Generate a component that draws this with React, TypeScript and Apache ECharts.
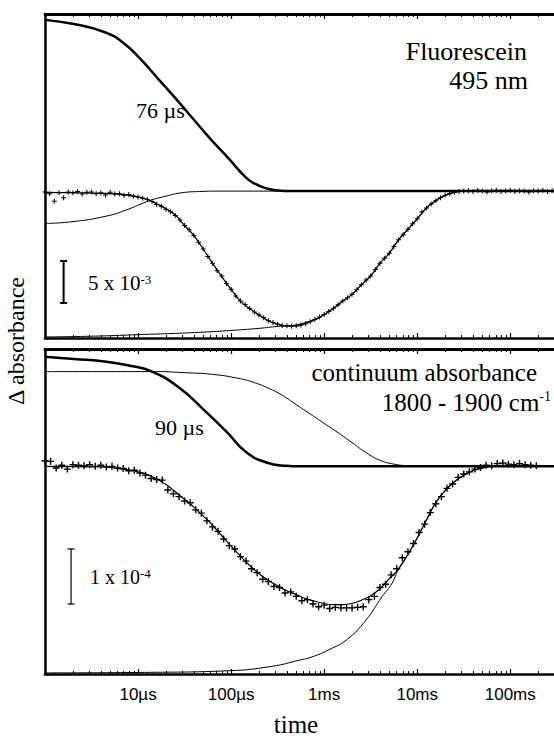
import React, { useEffect, useRef } from "react";
import * as echarts from "echarts";

// x axis: log10(time / s)
const X_MIN = -6.0;
const X_MAX = -0.53;

const decadeTicks = [-5, -4, -3, -2, -1];
const decadeLabels = ["10µs", "100µs", "1ms", "10ms", "100ms"];
const minorMultipliers = [2, 3, 4, 5, 6, 7, 8, 9];
const minorDecades = [-6, -5, -4, -3, -2, -1];

// ---------- top panel (Fluorescein 495 nm), values in units of 1e-3 ----------
const topDecay76 = [
  [-6.0, 20.4], [-5.69, 19.9], [-5.35, 18.9], [-5.15, 17.6], [-4.98, 15.8], [-4.77, 13.2],
  [-4.59, 10.95], [-4.4, 8.5], [-4.22, 6.2], [-4.02, 3.8], [-3.84, 1.6], [-3.74, 0.85],
  [-3.63, 0.35], [-3.52, 0.1], [-3.4, 0.01], [-3.3, 0], [-0.53, 0],
];
const topFastRise = [
  [-6.0, -3.85], [-5.71, -3.65], [-5.34, -2.98], [-5.13, -2.26], [-4.88, -1.15], [-4.7, -0.6],
  [-4.53, -0.2], [-4.34, -0.05], [-4.1, 0], [-0.53, 0],
];
const topSlowRise = [
  [-6.0, -17.38], [-5.4, -17.26], [-5.0, -17.1], [-4.6, -16.95], [-4.3, -16.8], [-4.0, -16.6],
  [-3.7, -16.35], [-3.5, -16.12], [-3.4, -16.06], [-3.3, -15.95], [-3.2, -15.65], [-3.1, -15.3],
  [-3.0, -14.7], [-2.9, -13.95], [-2.8, -13.1], [-2.7, -12.3], [-2.6, -11.15], [-2.5, -10.1],
  [-2.4, -8.6], [-2.3, -7.4], [-2.2, -5.8], [-2.1, -4.55], [-2.0, -3.3], [-1.9, -2.0],
  [-1.8, -1.15], [-1.7, -0.5], [-1.6, -0.15], [-1.5, 0], [-0.53, 0],
];
const topFit = [
  [-6.0, -0.15], [-5.6, -0.22], [-5.3, -0.3], [-5.1, -0.5], [-5.0, -0.7], [-4.9, -1.0],
  [-4.8, -1.5], [-4.7, -2.1], [-4.6, -2.85], [-4.5, -4.1], [-4.4, -5.3], [-4.3, -6.9],
  [-4.2, -8.6], [-4.1, -10.2], [-4.0, -11.7], [-3.9, -13.1], [-3.8, -14.0], [-3.7, -14.75],
  [-3.6, -15.45], [-3.5, -15.85], [-3.4, -16.05], [-3.3, -16.05], [-3.2, -15.75], [-3.1, -15.3],
  [-3.0, -14.7], [-2.9, -13.95], [-2.8, -13.1], [-2.7, -12.3], [-2.6, -11.15], [-2.5, -10.1],
  [-2.4, -8.6], [-2.3, -7.4], [-2.2, -5.8], [-2.1, -4.55], [-2.0, -3.3], [-1.9, -2.0],
  [-1.8, -1.15], [-1.7, -0.5], [-1.6, -0.15], [-1.5, 0], [-0.53, 0],
];
const topData = [
  [-6.0, -0.1], [-5.95, -0.3], [-5.9, -1.2], [-5.85, -0.2], [-5.8, -0.8], [-5.75, -0.1], [-5.7, -0.2], [-5.65, -0.05], [-5.6, -0.35], [-5.55, -0.15],
  [-5.5, -0.1], [-5.45, -0.3], [-5.4, -0.2], [-5.35, -0.45], [-5.3, -0.15], [-5.25, -0.35], [-5.2, -0.3], [-5.15, -0.5], [-5.1, -0.4], [-5.05, -0.6],
  [-5.0, -0.7], [-4.95, -0.85], [-4.9, -1.0], [-4.85, -1.25], [-4.8, -1.6], [-4.75, -1.8], [-4.7, -2.15], [-4.65, -2.45], [-4.6, -2.9], [-4.55, -3.45],
  [-4.5, -4.1], [-4.45, -4.6], [-4.4, -5.3], [-4.35, -6.1], [-4.3, -6.9], [-4.25, -7.8], [-4.2, -8.6], [-4.15, -9.5], [-4.1, -10.1], [-4.05, -11.0],
  [-4.0, -11.7], [-3.95, -12.5], [-3.9, -13.1], [-3.85, -13.5], [-3.8, -14.0], [-3.75, -14.4], [-3.7, -14.75], [-3.65, -15.1], [-3.6, -15.45], [-3.55, -15.65],
  [-3.5, -15.85], [-3.45, -16.0], [-3.4, -16.05], [-3.35, -16.1], [-3.3, -16.05], [-3.25, -15.95], [-3.2, -15.8], [-3.15, -15.55], [-3.1, -15.3], [-3.05, -15.0],
  [-3.0, -14.7], [-2.95, -14.35], [-2.9, -13.95], [-2.85, -13.55], [-2.8, -13.1], [-2.75, -12.7], [-2.7, -12.3], [-2.65, -11.75], [-2.6, -11.15], [-2.55, -10.6],
  [-2.5, -10.1], [-2.45, -9.35], [-2.4, -8.6], [-2.35, -8.0], [-2.3, -7.4], [-2.25, -6.6], [-2.2, -5.8], [-2.15, -5.2], [-2.1, -4.55], [-2.05, -3.9],
  [-2.0, -3.3], [-1.95, -2.5], [-1.9, -2.0], [-1.85, -1.55], [-1.8, -1.15], [-1.75, -0.8], [-1.7, -0.5], [-1.65, -0.3], [-1.6, -0.15], [-1.55, -0.05],
  [-1.5, 0.0], [-1.45, 0.05], [-1.4, -0.05], [-1.35, 0.1], [-1.3, 0.0], [-1.25, -0.1], [-1.2, 0.05], [-1.15, 0.1], [-1.1, -0.05], [-1.05, 0.0],
  [-1.0, 0.1], [-0.95, -0.05], [-0.9, 0.05], [-0.85, 0.0], [-0.8, -0.1], [-0.75, 0.05], [-0.7, 0.0], [-0.65, 0.1], [-0.6, -0.05], [-0.55, 0.05],
];
// scale bar: [x, from, to]  (5 x 10^-3)
const topScaleBar = [[-5.8, -13.33, -8.33]];

// ---------- bottom panel (continuum 1800-1900 cm-1), values in units of 1e-4 ----------
const botDecay90 = [
  [-6.0, 1.99], [-5.69, 1.95], [-5.34, 1.9], [-5.1, 1.83], [-4.85, 1.72], [-4.56, 1.43],
  [-4.27, 0.99], [-4.05, 0.63], [-3.84, 0.26], [-3.62, 0.07], [-3.41, 0.01], [-3.27, 0], [-0.53, 0],
];
const botSlowDecay = [
  [-6.0, 1.72], [-4.8, 1.72], [-4.5, 1.7], [-4.2, 1.67], [-3.9, 1.59], [-3.75, 1.52],
  [-3.6, 1.42], [-3.45, 1.29], [-3.3, 1.12], [-3.15, 0.95], [-3.0, 0.78], [-2.85, 0.61],
  [-2.7, 0.43], [-2.55, 0.25], [-2.4, 0.11], [-2.25, 0.04], [-2.1, 0.01], [-1.95, 0], [-0.53, 0],
];
const botSlowRise = [
  [-6.0, -3.75], [-4.88, -3.74], [-4.02, -3.71], [-3.56, -3.63], [-3.27, -3.52], [-3.13, -3.46],
  [-2.95, -3.33], [-2.76, -3.15], [-2.55, -2.79], [-2.38, -2.37], [-2.27, -2.12], [-2.2, -1.86],
  [-2.1, -1.6], [-2.0, -1.3], [-1.9, -0.97], [-1.8, -0.66], [-1.7, -0.44], [-1.6, -0.28],
  [-1.5, -0.16], [-1.4, -0.08], [-1.3, -0.03], [-1.2, 0], [-0.53, 0],
];
const botFit = [
  [-6.0, 0], [-5.4, -0.01], [-5.2, -0.04], [-5.0, -0.1], [-4.9, -0.15], [-4.8, -0.23], [-4.7, -0.33],
  [-4.6, -0.46], [-4.5, -0.6], [-4.4, -0.74], [-4.3, -0.9], [-4.2, -1.07], [-4.1, -1.26], [-4.0, -1.45],
  [-3.9, -1.63], [-3.8, -1.8], [-3.7, -1.95], [-3.6, -2.07], [-3.5, -2.17], [-3.4, -2.26], [-3.3, -2.33],
  [-3.2, -2.4], [-3.1, -2.45], [-3.0, -2.49], [-2.9, -2.51], [-2.8, -2.51], [-2.7, -2.49], [-2.6, -2.43],
  [-2.5, -2.35], [-2.4, -2.22], [-2.3, -2.04], [-2.2, -1.86], [-2.1, -1.6], [-2.0, -1.3], [-1.9, -0.97],
  [-1.8, -0.66], [-1.7, -0.44], [-1.6, -0.28], [-1.5, -0.16], [-1.4, -0.08], [-1.3, -0.03], [-1.2, 0], [-0.53, 0],
];
const botData = [
  [-6.0, 0.1], [-5.94, 0.09], [-5.88, -0.03], [-5.82, 0.02], [-5.76, -0.05], [-5.7, 0.03], [-5.64, 0.02], [-5.58, 0.01], [-5.52, 0.03], [-5.46, 0.0],
  [-5.4, 0.02], [-5.34, -0.01], [-5.28, 0.0], [-5.22, -0.03], [-5.16, -0.04], [-5.1, -0.08], [-5.04, -0.07], [-4.98, -0.12], [-4.92, -0.16], [-4.86, -0.22],
  [-4.8, -0.24], [-4.74, -0.25], [-4.68, -0.43], [-4.62, -0.5], [-4.56, -0.55], [-4.5, -0.63], [-4.44, -0.66], [-4.38, -0.79], [-4.32, -0.85], [-4.26, -0.99],
  [-4.2, -1.1], [-4.14, -1.18], [-4.08, -1.32], [-4.02, -1.44], [-3.96, -1.5], [-3.9, -1.64], [-3.84, -1.72], [-3.78, -1.86], [-3.72, -1.93], [-3.66, -2.05],
  [-3.6, -2.09], [-3.54, -2.18], [-3.48, -2.2], [-3.42, -2.3], [-3.36, -2.28], [-3.3, -2.36], [-3.24, -2.44], [-3.18, -2.42], [-3.12, -2.5], [-3.06, -2.55],
  [-3.0, -2.52], [-2.94, -2.58], [-2.88, -2.56], [-2.82, -2.57], [-2.76, -2.57], [-2.7, -2.57], [-2.64, -2.56], [-2.58, -2.55], [-2.52, -2.42], [-2.46, -2.36],
  [-2.4, -2.2], [-2.34, -2.14], [-2.28, -1.97], [-2.22, -1.86], [-2.16, -1.66], [-2.1, -1.55], [-2.04, -1.4], [-1.98, -1.2], [-1.92, -1.05], [-1.86, -0.84],
  [-1.8, -0.68], [-1.74, -0.55], [-1.68, -0.4], [-1.62, -0.32], [-1.56, -0.2], [-1.5, -0.14], [-1.44, -0.1], [-1.38, -0.05], [-1.32, -0.02], [-1.26, 0.02],
  [-1.2, 0.01], [-1.14, 0.05], [-1.08, 0.06], [-1.02, 0.04], [-0.96, 0.03], [-0.9, 0.05], [-0.84, 0.03], [-0.78, 0.02], [-0.72, 0.01],
];
// scale bar: [x, from, to]  (1 x 10^-4)
const botScaleBar = [[-5.72, -2.5, -1.5]];

const TOP_Y = [-17.5, 21.1];
const BOT_Y = [-3.77, 2.13];

const SERIF = '"Liberation Serif", "Times New Roman", serif';
const SANS = '"Liberation Sans", Arial, sans-serif';
const CROSS = "path://M2,0H3V2H5V3H3V5H2V3H0V2H2Z";

function buildOption() {
  const minorTicks: number[] = [];
  minorDecades.forEach((d) => minorMultipliers.forEach((m) => minorTicks.push(d + Math.log10(m))));

  const xAxesFor = (gridIndex: number, labels: boolean) => {
    const base = {
      type: "value",
      gridIndex,
      min: X_MIN,
      max: X_MAX,
      splitLine: { show: false },
      axisLabel: { show: false },
    };
    const major = (position: string, width: number) => ({
      ...base,
      position,
      axisLine: { show: true, onZero: false, lineStyle: { color: "#000", width } },
      axisTick: { show: true, inside: true, length: 5, customValues: decadeTicks, lineStyle: { color: "#000", width: 1.2 } },
    });
    const minor = (position: string) => ({
      ...base,
      position,
      axisLine: { show: false, onZero: false },
      axisTick: { show: true, inside: true, length: 3, customValues: minorTicks, lineStyle: { color: "#000", width: 1 } },
    });
    const bottomMajor: any = major("bottom", 2.5);
    if (labels) {
      bottomMajor.axisLabel = {
        show: true,
        customValues: decadeTicks,
        margin: 12,
        color: "#000",
        fontSize: 17,
        fontFamily: SANS,
        formatter: (v: number) => decadeLabels[decadeTicks.indexOf(Math.round(v))] ?? "",
      };
    }
    return [bottomMajor, minor("bottom"), major("top", 2.8), minor("top")];
  };

  const yAxisFor = (gridIndex: number, ext: number[]) => ({
    type: "value",
    gridIndex,
    min: ext[0],
    max: ext[1],
    axisLine: { show: true, onZero: false, lineStyle: { color: "#000", width: 2.5 } },
    axisTick: { show: false },
    axisLabel: { show: false },
    splitLine: { show: false },
  });

  const line = (data: number[][], xi: number, yi: number, width: number, z = 3) => ({
    type: "line",
    xAxisIndex: xi,
    yAxisIndex: yi,
    data,
    symbol: "none",
    smooth: 0.5,
    lineStyle: { color: "#000", width },
    z,
    silent: true,
  });
  const crosses = (data: number[][], xi: number, yi: number, size: number) => ({
    type: "scatter",
    xAxisIndex: xi,
    yAxisIndex: yi,
    data,
    symbol: CROSS,
    symbolSize: size,
    itemStyle: { color: "#000", opacity: 1 },
    z: 2,
    silent: true,
  });
  const scaleBar = (data: number[][], xi: number, yi: number, lw: number) => ({
    type: "custom",
    xAxisIndex: xi,
    yAxisIndex: yi,
    data,
    encode: { x: 0, y: [1, 2] },
    silent: true,
    renderItem: (_p: any, api: any) => {
      const a = api.coord([api.value(0), api.value(1)]);
      const b = api.coord([api.value(0), api.value(2)]);
      const w = 3.5;
      const st = { stroke: "#000", lineWidth: lw };
      return {
        type: "group",
        children: [
          { type: "line", shape: { x1: a[0], y1: a[1], x2: b[0], y2: b[1] }, style: st },
          { type: "line", shape: { x1: a[0] - w, y1: a[1], x2: a[0] + w, y2: a[1] }, style: st },
          { type: "line", shape: { x1: b[0] - w, y1: b[1], x2: b[0] + w, y2: b[1] }, style: st },
        ],
      };
    },
  });

  const txt = (x: number, y: number, text: string, size: number, align = "left", extra: any = {}) => ({
    type: "text",
    x,
    y,
    silent: true,
    ...extra,
    style: { text, fill: "#000", fontSize: size, fontFamily: SERIF, align, verticalAlign: "middle" },
  });
  const sup = (x: number, y: number, main: string, exp: string, size: number, expSize: number, align = "left") => ({
    type: "text",
    x,
    y,
    silent: true,
    style: {
      text: `{a|${main}}{b|${exp}}`,
      align,
      verticalAlign: "middle",
      rich: {
        a: { fontSize: size, fontFamily: SERIF, fill: "#000", color: "#000" },
        b: { fontSize: expSize, fontFamily: SERIF, fill: "#000", color: "#000", verticalAlign: "top" },
      },
    },
  });

  return {
    animation: false,
    backgroundColor: "#fff",
    grid: [
      { left: 45, top: 14, width: 509, height: 324 },
      { left: 45, top: 349, width: 509, height: 325 },
    ],
    xAxis: [...xAxesFor(0, false), ...xAxesFor(1, true)],
    yAxis: [yAxisFor(0, TOP_Y), yAxisFor(1, BOT_Y)],
    series: [
      crosses(topData, 0, 0, 5),
      line(topFit, 0, 0, 1.2),
      line(topDecay76, 0, 0, 2.5),
      line(topFastRise, 0, 0, 1),
      line(topSlowRise, 0, 0, 1),
      scaleBar(topScaleBar, 0, 0, 2),
      crosses(botData, 4, 1, 7),
      line(botFit, 4, 1, 1.2),
      line(botDecay90, 4, 1, 2.5),
      line(botSlowDecay, 4, 1, 1),
      line(botSlowRise, 4, 1, 1),
      scaleBar(botScaleBar, 4, 1, 1.2),
    ],
    graphic: [
      txt(527, 51, "Fluorescein", 26, "right"),
      txt(528, 80, "495 nm", 26, "right"),
      txt(136, 110, "76 µs", 22),
      sup(88, 283, "5 x 10", "-3", 21, 13),
      txt(537, 372, "continuum absorbance", 25, "right"),
      sup(551, 402, "1800 - 1900 cm", "-1", 25, 14, "right"),
      txt(155, 427, "90 µs", 22),
      sup(90, 577, "1 x 10", "-4", 20, 13),
      txt(296, 724, "time", 25, "center"),
      txt(16, 341, "Δ absorbance", 24, "center", { rotation: Math.PI / 2 }),
    ],
  };
}

export default function App() {
  const ref = useRef<HTMLDivElement>(null);
  useEffect(() => {
    if (!ref.current) return;
    const chart = echarts.init(ref.current, null, { renderer: "svg" });
    chart.setOption(buildOption() as any);
    return () => chart.dispose();
  }, []);
  return (
    <div
      ref={ref}
      style={{ position: "fixed", left: 0, top: 0, width: 554, height: 740, background: "#fff" }}
    />
  );
}
